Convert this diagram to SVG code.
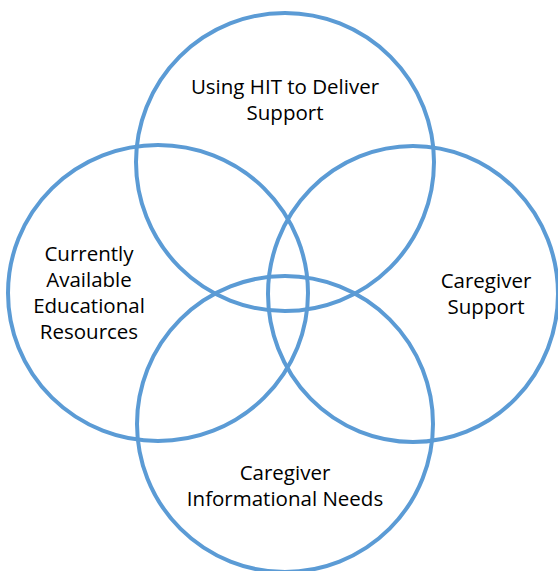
<svg xmlns="http://www.w3.org/2000/svg" width="558" height="571" viewBox="0 0 558 571">
<style>
.c{fill:none;stroke:#5B9BD5;stroke-width:4}
.t{font-family:"Open Sans","Liberation Sans",sans-serif;font-size:20.5px;fill:#000;text-anchor:middle}
</style>
<rect width="558" height="571" fill="#fff"/>
<g id="top"><circle class="c" cx="285" cy="162" r="149"/>
<text class="t" x="285" y="94">Using HIT to Deliver</text><text class="t" x="285" y="120">Support</text></g>
<g id="left"><ellipse class="c" cx="158" cy="293" rx="150" ry="148"/>
<text class="t" x="89" y="261">Currently</text><text class="t" x="89" y="287">Available</text><text class="t" x="89" y="313">Educational</text><text class="t" x="89" y="339">Resources</text></g>
<g id="right"><ellipse class="c" cx="413" cy="294" rx="145" ry="148"/>
<text class="t" x="486" y="288">Caregiver</text><text class="t" x="486" y="314">Support</text></g>
<g id="bottom"><circle class="c" cx="285" cy="424" r="148"/>
<text class="t" x="285" y="480">Caregiver</text><text class="t" x="285" y="506">Informational Needs</text></g>
<g id="connectors"/>
</svg>
